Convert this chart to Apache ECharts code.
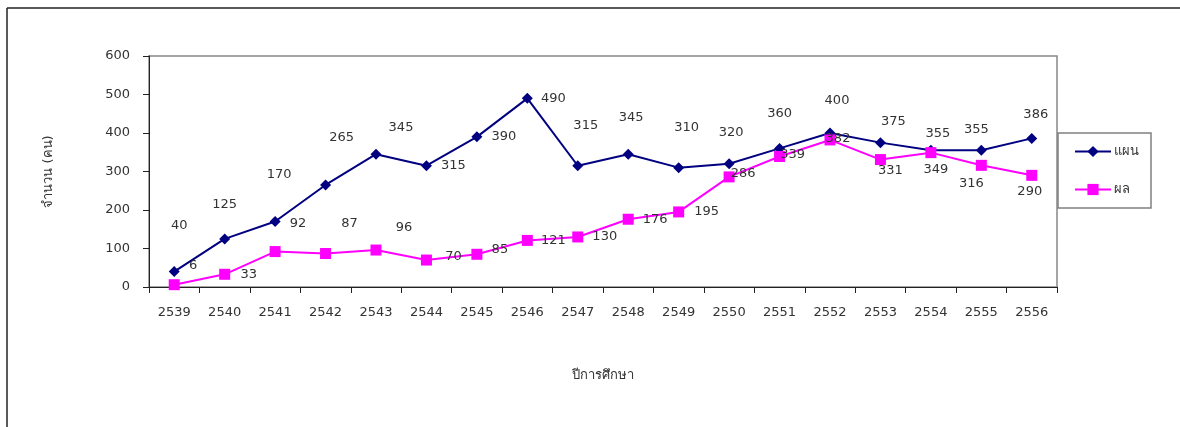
<!DOCTYPE html>
<html>
<head>
<meta charset="utf-8">
<script src="https://cdn.jsdelivr.net/npm/echarts@6/dist/echarts.min.js"></script>
<style>
  html,body{margin:0;padding:0;background:#fff;}
  #myChart{width:1180px;height:427px;}
</style>
</head>
<body>
<div id="myChart"></div>
<script>
// ปีการศึกษา
const years = ['2539','2540','2541','2542','2543','2544','2545','2546','2547','2548','2549','2550','2551','2552','2553','2554','2555','2556'];
// แผน
const planValues = [40,125,170,265,345,315,390,490,315,345,310,320,360,400,375,355,355,386];
// ผล
const resultValues = [6,33,92,87,96,70,85,121,130,176,195,286,339,382,331,349,316,290];
const yTicks = {min:0, max:600, interval:100};

// label offsets (px) from each marker
const planOffsets = [[5,-46],[0,-34],[4,-47],[16,-47],[25,-27],[27,0],[27,0],[26,0],[8,-40],[3,-37],[8,-40],[2,-31],[0,-35],[7,-32],[13,-21],[7,-17],[-5,-21],[4,-24]];
const resultOffsets = [[19,-19],[24,0],[23,-28],[24,-30],[28,-22],[27,-3],[23,-5],[26,0],[27,0],[27,0],[28,0],[14,-3],[13,-2],[8,-1],[10,11],[5,17],[-10,18],[-2,16]];

const FONT = '"DejaVu Sans", Tahoma, sans-serif';
const TXT = '#333';

function withLabels(values, offsets){
    return values.map((v,i)=>({value:v, label:{offset:offsets[i]}}));
}

const myChart = echarts.init(document.getElementById('myChart'));
const option = {
    backgroundColor:'#fff',
    animation:false,
    textStyle:{fontFamily:FONT},
    grid:{left:149, top:56, width:908, height:231, show:true, borderColor:'#888', borderWidth:1.5, backgroundColor:'transparent'},
    legend:{
        orient:'vertical',
        left:1058, top:133,
        padding:[12,12,12,16],
        itemWidth:36, itemHeight:14, itemGap:25,
        borderColor:'#808080', borderWidth:1.5,
        textStyle:{fontFamily:FONT, fontSize:13, color:TXT, padding:[0,0,0,-2]},
        data:['แผน','ผล']
    },
    xAxis:{
        type:'category',
        data:years,
        boundaryGap:true,
        name:'ปีการศึกษา',
        nameLocation:'middle',
        nameGap:82,
        nameTextStyle:{fontFamily:FONT, fontSize:13, color:TXT},
        axisLine:{lineStyle:{color:'#222', width:1}},
        axisTick:{show:true, length:6, lineStyle:{color:'#222'}},
        axisLabel:{fontFamily:FONT, fontSize:13, color:TXT, margin:19, interval:0},
        splitLine:{show:false}
    },
    yAxis:{
        type:'value',
        min:yTicks.min, max:yTicks.max, interval:yTicks.interval,
        name:'จำนวน (คน)',
        nameLocation:'middle',
        nameRotate:90,
        nameGap:94,
        nameTextStyle:{fontFamily:FONT, fontSize:13, color:TXT},
        axisLine:{show:true, lineStyle:{color:'#222', width:1}},
        axisTick:{show:true, length:6, lineStyle:{color:'#222'}},
        axisLabel:{fontFamily:FONT, fontSize:13, color:TXT, margin:19},
        splitLine:{show:false}
    },
    series:[
        {
            name:'แผน',
            type:'line',
            data:withLabels(planValues, planOffsets),
            symbol:'diamond',
            symbolSize:11,
            lineStyle:{color:'#000080', width:2},
            itemStyle:{color:'#000080'},
            label:{show:true, position:'inside', fontFamily:FONT, fontSize:13, color:TXT},
            z:2
        },
        {
            name:'ผล',
            type:'line',
            data:withLabels(resultValues, resultOffsets),
            symbol:'rect',
            symbolSize:11,
            lineStyle:{color:'#ff00ff', width:2},
            itemStyle:{color:'#ff00ff'},
            label:{show:true, position:'inside', fontFamily:FONT, fontSize:13, color:TXT},
            z:3
        }
    ],
    graphic:[
        {type:'line', shape:{x1:7, y1:8, x2:1180, y2:8}, style:{stroke:'#222', lineWidth:1.5}, silent:true},
        {type:'line', shape:{x1:7, y1:8, x2:7, y2:427}, style:{stroke:'#222', lineWidth:1.5}, silent:true}
    ]
};
myChart.setOption(option);
</script>
</body>
</html>
